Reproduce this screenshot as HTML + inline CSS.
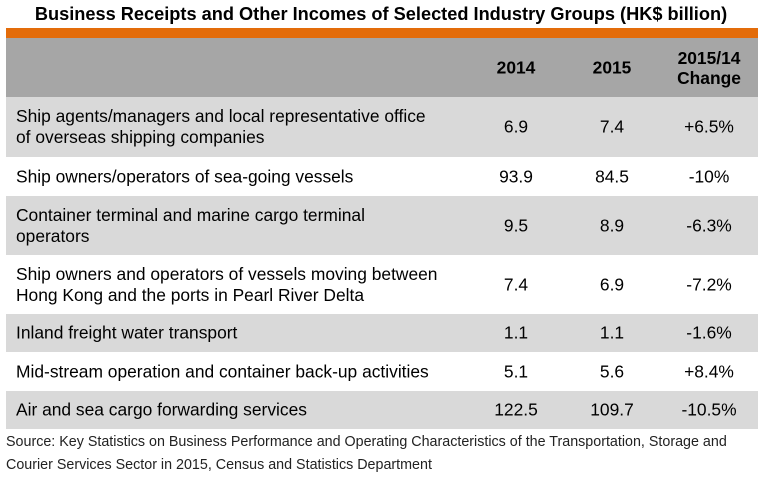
<!DOCTYPE html>
<html><head><meta charset="utf-8"><style>
body{margin:0;width:762px;height:478px;background:#fff;font-family:"Liberation Sans",Arial,sans-serif;position:relative;overflow:hidden;color:#000}
.a{position:absolute}
.row{position:absolute;left:6px;width:752px}
.lbl{position:absolute;left:10px;font-size:17.4px;line-height:21px;top:50%;transform:translateY(-50%);white-space:nowrap}
.num{position:absolute;font-size:17.4px;width:90px;text-align:center;top:50%;transform:translateY(-50%)}
.c1{left:465px}.c2{left:561px}.c3{left:658px}
</style></head><body>
<div class="a" style="left:0;width:762px;top:4px;text-align:center;font-weight:bold;font-size:18.2px;white-space:nowrap">Business Receipts and Other Incomes of Selected Industry Groups (HK$ billion)</div>
<div class="a" style="left:6px;width:752px;top:28px;height:10px;background:#e36c0a"></div>
<div class="row" style="top:38px;height:59px;background:#a6a6a6;font-weight:bold">
<div class="num c1">2014</div>
<div class="num c2">2015</div>
<div class="num c3" style="line-height:20px">2015/14<br>Change</div>
</div>
<div id="rows"></div>
<div class="a" style="left:6px;top:431px;font-size:14.3px;line-height:23px;color:#222;white-space:nowrap">Source: Key Statistics on Business Performance and Operating Characteristics of the Transportation, Storage and<br>Courier Services Sector in 2015, Census and Statistics Department</div>
<script>
const labels=["Ship agents/managers and local representative office<br>of overseas shipping companies","Ship owners/operators of sea-going vessels","Container terminal and marine cargo terminal<br>operators","Ship owners and operators of vessels moving between<br>Hong Kong and the ports in Pearl River Delta","Inland freight water transport","Mid-stream operation and container back-up activities","Air and sea cargo forwarding services"];
const v2014=["6.9","93.9","9.5","7.4","1.1","5.1","122.5"];
const v2015=["7.4","84.5","8.9","6.9","1.1","5.6","109.7"];
const change=["+6.5%","-10%","-6.3%","-7.2%","-1.6%","+8.4%","-10.5%"];
const tops=[97,157,196,255,314,352,391],hs=[60,39,59,59,38,39,38];
const host=document.getElementById('rows');
labels.forEach((l,i)=>{
const r=document.createElement('div');r.className='row';


r.style.top=tops[i]+'px';r.style.height=hs[i]+'px';r.style.background=i%2==0?'#d9d9d9':'#fff';
r.innerHTML='<div class="lbl">'+l+'</div><div class="num c1">'+v2014[i]+'</div><div class="num c2">'+v2015[i]+'</div><div class="num c3">'+change[i]+'</div>';
host.appendChild(r);
});
</script>
</body></html>
